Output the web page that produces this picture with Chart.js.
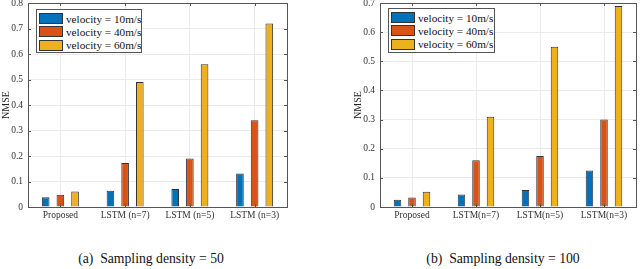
<!DOCTYPE html>
<html>
<head>
<meta charset="utf-8">
<script src="https://cdn.jsdelivr.net/npm/chart.js@4.4.1/dist/chart.umd.min.js"></script>
<style>
  body { margin: 0; background: #fff; width: 640px; height: 269px; overflow: hidden; position: relative; font-family: 'Liberation Serif', 'DejaVu Serif', serif; }
  canvas { position: absolute; }
  .legend { position: absolute; background: #fff; border: 1px solid #555; box-sizing: border-box; padding: 2px 0 0 2px; }
  .legend .row { display: flex; align-items: center; height: 13.3px; font-size: 11.2px; color: #111; white-space: nowrap; }
  .legend .sw { width: 22px; height: 9px; border: 1px solid #333; margin-right: 3px; flex: none; }
  .caption { position: absolute; top: 251px; font-size: 13.7px; color: #111; white-space: pre; text-align: center; width: 240px; }
</style>
</head>
<body>
<canvas id="chartA" width="300" height="240" style="left:0;top:-17px"></canvas>
<canvas id="chartB" width="288" height="240" style="left:352px;top:-17px"></canvas>
<div class="legend" id="legendA" style="left:36px;top:9px;width:106px;height:44px"></div>
<div class="legend" id="legendB" style="left:388px;top:8px;width:107px;height:45px"></div>
<div class="caption" style="left:31px">(a)  Sampling density = 50</div>
<div class="caption" style="left:383px">(b)  Sampling density = 100</div>
<script>
// categories and series
const categoriesA = ['Proposed', 'LSTM (n=7)', 'LSTM (n=5)', 'LSTM (n=3)'];
const categoriesB = ['Proposed', 'LSTM(n=7)', 'LSTM(n=5)', 'LSTM(n=3)'];
const seriesNames = ['velocity = 10m/s', 'velocity = 40m/s', 'velocity = 60m/s'];
const seriesColors = ['#0072BD', '#D95319', '#EDB120'];

// sampling density = 50
const a10 = [0.038, 0.064, 0.071, 0.131];
const a40 = [0.048, 0.173, 0.190, 0.340];
const a60 = [0.061, 0.490, 0.560, 0.720];

// sampling density = 100
const b10 = [0.025, 0.043, 0.058, 0.125];
const b40 = [0.033, 0.160, 0.175, 0.300];
const b60 = [0.052, 0.310, 0.550, 0.690];

const yMaxA = 0.8;
const yMaxB = 0.7;
const yStep = 0.1;

const axisColor = '#555';
const tickFont = { family: "'Liberation Serif', serif", size: 9.5 };

// box around the plot + inward tick marks, like MATLAB
const framePlugin = {
    id: 'frame',
    afterDraw(chart) {
        const ctx = chart.ctx;
        const a = chart.chartArea;
        const len = 3;
        ctx.save();
        ctx.strokeStyle = axisColor;
        ctx.lineWidth = 1;
        ctx.beginPath();
        chart.scales.y.ticks.forEach(t => {
            const py = Math.round(chart.scales.y.getPixelForValue(t.value)) + 0.5;
            ctx.moveTo(a.left, py); ctx.lineTo(a.left + len, py);
            ctx.moveTo(a.right, py); ctx.lineTo(a.right - len, py);
        });
        chart.scales.x.ticks.forEach((t, i) => {
            const px = Math.round(chart.scales.x.getPixelForValue(i)) + 0.5;
            ctx.moveTo(px, a.bottom); ctx.lineTo(px, a.bottom - len);
            ctx.moveTo(px, a.top); ctx.lineTo(px, a.top + len);
        });
        ctx.stroke();
        ctx.strokeRect(Math.round(a.left) + 0.5, Math.round(a.top) + 0.5,
            Math.round(a.right - a.left), Math.round(a.bottom - a.top));
        ctx.restore();
    }
};

function makeChart(id, labels, values, yMax, padRight) {
    const ctx = document.getElementById(id).getContext('2d');
    return new Chart(ctx, {
        type: 'bar',
        data: {
            labels: labels,
            datasets: values.map((v, i) => ({
                label: seriesNames[i],
                data: v,
                backgroundColor: seriesColors[i],
                borderColor: '#333',
                borderWidth: 1,
                categoryPercentage: 0.68,
                barPercentage: 0.52
            }))
        },
        options: {
            responsive: false,
            animation: false,
            layout: { padding: { top: 20, right: padRight, left: 0, bottom: 0 } },
            plugins: {
                legend: { display: false },
                tooltip: { enabled: false }
            },
            scales: {
                x: {
                    grid: { offset: false, color: '#ebebeb', drawTicks: false },
                    border: { display: false },
                    ticks: { color: '#333', font: tickFont, padding: 3, maxRotation: 0, autoSkip: false },
                    afterFit: s => { s.height = 16; }
                },
                y: {
                    min: 0,
                    max: yMax,
                    grid: { color: '#ebebeb', drawTicks: false },
                    border: { display: false },
                    ticks: { stepSize: yStep, color: '#333', font: tickFont, padding: 5 },
                    title: { display: true, text: 'NMSE', color: '#222', font: { family: "'Liberation Serif', serif", size: 10 }, padding: 0 },
                    afterFit: s => { s.width = 28; }
                }
            }
        },
        plugins: [framePlugin]
    });
}

function makeLegend(id) {
    const box = document.getElementById(id);
    seriesNames.forEach((name, i) => {
        const row = document.createElement('div');
        row.className = 'row';
        const sw = document.createElement('span');
        sw.className = 'sw';
        sw.style.background = seriesColors[i];
        row.appendChild(sw);
        row.appendChild(document.createTextNode(name));
        box.appendChild(row);
    });
}

makeChart('chartA', categoriesA, [a10, a40, a60], yMaxA, 13);
makeChart('chartB', categoriesB, [b10, b40, b60], yMaxB, 4);
makeLegend('legendA');
makeLegend('legendB');
</script>
</body>
</html>
